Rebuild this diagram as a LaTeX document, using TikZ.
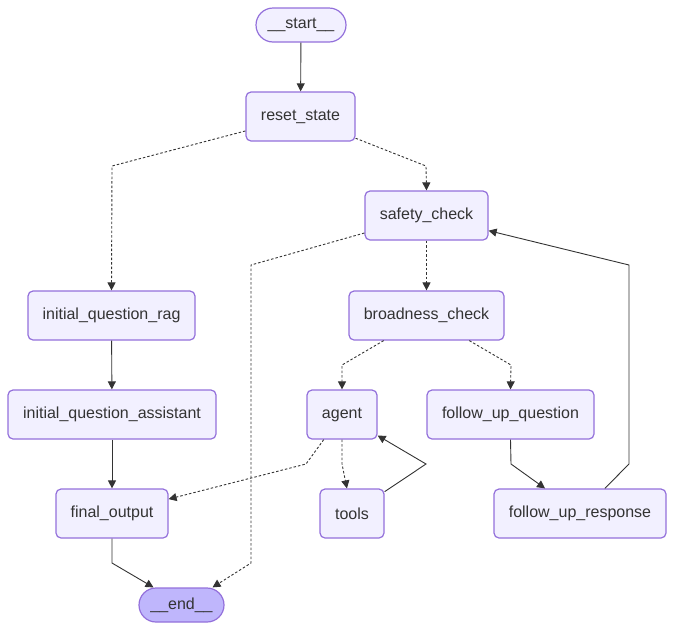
\documentclass[tikz,border=0pt]{standalone}
\usepackage{fontspec}
\setmainfont{Liberation Sans}
\usetikzlibrary{arrows.meta}
\definecolor{nfill}{HTML}{F2F0FF}
\definecolor{ndraw}{HTML}{9370DB}
\definecolor{efill}{HTML}{BFB6FC}
\definecolor{ink}{HTML}{333333}
\tikzset{
  box/.style={draw=ndraw, fill=nfill, line width=1.2pt, rounded corners=5pt, inner sep=0pt,
    minimum height=49pt, text=ink, font=\fontsize{16}{19}\selectfont},
  pill/.style={box, minimum height=34pt, rounded corners=17pt},
  edge/.style={draw=ink, line width=0.9pt, -{Triangle[length=8pt,width=8pt]}},
  dedge/.style={edge, dash pattern=on 2.5pt off 2pt},
}
\begin{document}
\begin{tikzpicture}[x=1pt,y=-1pt]
\useasboundingbox (0,0) rectangle (674,630);
\node[pill, minimum width=90pt] (start) at (301,25) {\_\_start\_\_};
\node[box, minimum width=109pt] (reset) at (300.5,116.5) {reset\_state};
\node[box, minimum width=123pt] (safety) at (426.5,215.5) {safety\_check};
\node[box, minimum width=167pt] (iqr) at (111.5,315.5) {initial\_question\_rag};
\node[box, minimum width=155pt] (broad) at (426.5,315.5) {broadness\_check};
\node[box, minimum width=208pt] (iqa) at (112,414.5) {initial\_question\_assistant};
\node[box, minimum width=70pt] (agent) at (342,414.5) {agent};
\node[box, minimum width=167pt] (fuq) at (510.5,414.5) {follow\_up\_question};
\node[box, minimum width=112pt] (final) at (112,513.5) {final\_output};
\node[box, minimum width=64pt] (tools) at (352,513.5) {tools};
\node[box, minimum width=172pt] (fur) at (580,513.5) {follow\_up\_response};
\node[pill, fill=efill, minimum width=85pt] (end) at (181.5,605) {\_\_end\_\_};

\coordinate (b1) at (112,166);
\coordinate (b2) at (426,166);
\coordinate (b3) at (251,265);
\coordinate (b4) at (251,563);
\coordinate (b5) at (112,563);
\coordinate (b6) at (342,365);
\coordinate (b7) at (511,365);
\coordinate (b8) at (306,464);
\coordinate (b9) at (342,464);
\coordinate (b10) at (426,464);
\coordinate (b11) at (511,464);
\coordinate (b12) at (629,464);
\coordinate (b13) at (629,265);

\draw[edge] (start) -- (reset);
\draw[dedge] (reset) -- (b1) -- (iqr.north);
\draw[dedge] (reset) -- (b2) -- (safety.north);
\draw[dedge] (safety) -- (b3) -- (b4) -- ([xshift=31pt]end.north);
\draw[dedge] (safety) -- (broad);
\draw[edge] (iqr) -- (iqa);
\draw[edge] (iqa) -- (final);
\draw[edge] (final.south) -- (b5) -- ([xshift=-28pt]end.north);
\draw[dedge] (broad) -- (b6) -- (agent.north);
\draw[dedge] (broad) -- (b7) -- (fuq.north);
\draw[dedge] (agent) -- (b8) -- (final);
\draw[dedge] (agent.south) -- (b9) -- (tools);
\draw[edge] (tools) -- (b10) -- (agent);
\draw[edge] (fuq.south) -- (b11) -- (fur);
\draw[edge] (fur) -- (b12) -- (b13) -- (safety);
\end{tikzpicture}
\end{document}
